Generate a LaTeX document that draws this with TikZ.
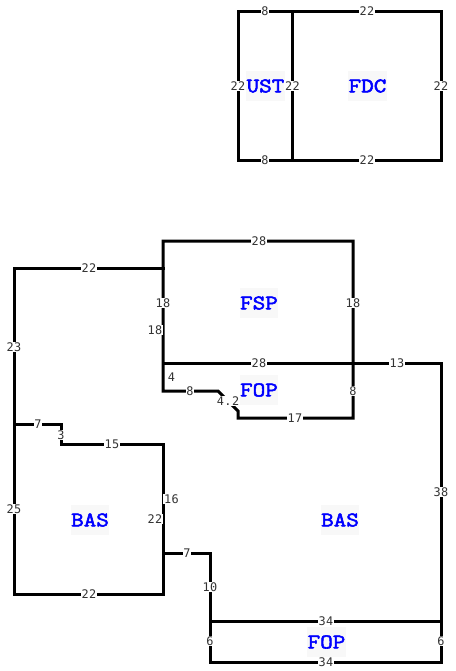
\documentclass[tikz,border=0pt]{standalone}
\usepackage{fontspec}
\setmonofont{DejaVu Sans Mono}[LetterSpace=4]
\newfontfamily\titlefont{Latin Modern Mono}[FakeBold=2.6,FakeStretch=1.18]
\definecolor{labelgrey}{HTML}{333333}
\definecolor{titleblue}{HTML}{0000FF}
\definecolor{titlebg}{HTML}{F8F8F8}
\tikzset{
  wall/.style={line width=2.25pt,black,line cap=rect,line join=miter},
  dim/.style={fill=white,inner sep=0.6pt,text=labelgrey,font=\ttfamily\fontsize{8.9}{9}\selectfont},
  room/.style={fill=titlebg,inner sep=0pt,minimum width=29pt,minimum height=23pt,text=titleblue,font=\titlefont\fontsize{15.5}{16}\selectfont}
}
\begin{document}
\begin{tikzpicture}[x=0.75pt,y=-0.75pt]
\useasboundingbox (0,0) rectangle (456,671);
% top block
\draw[wall] (238,11.5) rectangle (441,160);
\draw[wall] (292.5,11.5) -- (292.5,160);
% FSP
\draw[wall] (163,363) -- (163,241) -- (353,241) -- (353,418) -- (238,418) -- (238,411) -- (218,391) -- (163,391) -- cycle;
\draw[wall] (163,363) -- (441,363) -- (441,662) -- (210,662) -- (210,553) -- (163,553);
\draw[wall] (210,621) -- (441,621);
% left BAS
\draw[wall] (163,268) -- (14,268) -- (14,594) -- (163,594) -- (163,444) -- (61,444) -- (61,424) -- (14,424);
% room names
\node[room] (ust) at (265.5,86) {UST};
\node[room] (fdc) at (367.5,86) {FDC};
\node[room] (fsp) at (259,303) {FSP};
\node[room] (fop1) at (259,390) {FOP};
\node[room] (bas1) at (90,520) {BAS};
\node[room] (bas2) at (340,520) {BAS};
\node[room] (fop2) at (326.5,642) {FOP};
% dimensions
\node[dim] (d1) at (265,11.5) {8};
\node[dim] (d2) at (367,11.5) {22};
\node[dim] (d3) at (238,86) {22};
\node[dim] (d4) at (292.5,86) {22};
\node[dim] (d5) at (441,86) {22};
\node[dim] (d6) at (265,160) {8};
\node[dim] (d7) at (367,160) {22};
\node[dim] (d8) at (259,241) {28};
\node[dim] (d9) at (89,268) {22};
\node[dim] (d10) at (163,303) {18};
\node[dim] (d11) at (353,303) {18};
\node[dim] (d12) at (155,330) {18};
\node[dim] (d13) at (14,347) {23};
\node[dim] (d14) at (259,363) {28};
\node[dim] (d15) at (397,363) {13};
\node[dim] (d16) at (171.5,377) {4};
\node[dim] (d17) at (190,391) {8};
\node[dim] (d18) at (228,401) {4.2};
\node[dim] (d19) at (353,391) {8};
\node[dim] (d20) at (295,418) {17};
\node[dim] (d21) at (38,424.5) {7};
\node[dim] (d22) at (61,435) {3};
\node[dim] (d23) at (112,444.5) {15};
\node[dim] (d24) at (441,492) {38};
\node[dim] (d25) at (171.5,499) {16};
\node[dim] (d26) at (14,509) {25};
\node[dim] (d27) at (155,519) {22};
\node[dim] (d28) at (187,553) {7};
\node[dim] (d29) at (210,587) {10};
\node[dim] (d30) at (89,594) {22};
\node[dim] (d31) at (326,621) {34};
\node[dim] (d32) at (210,641) {6};
\node[dim] (d33) at (441,641) {6};
\node[dim] (d34) at (326,662) {34};
\end{tikzpicture}
\end{document}
